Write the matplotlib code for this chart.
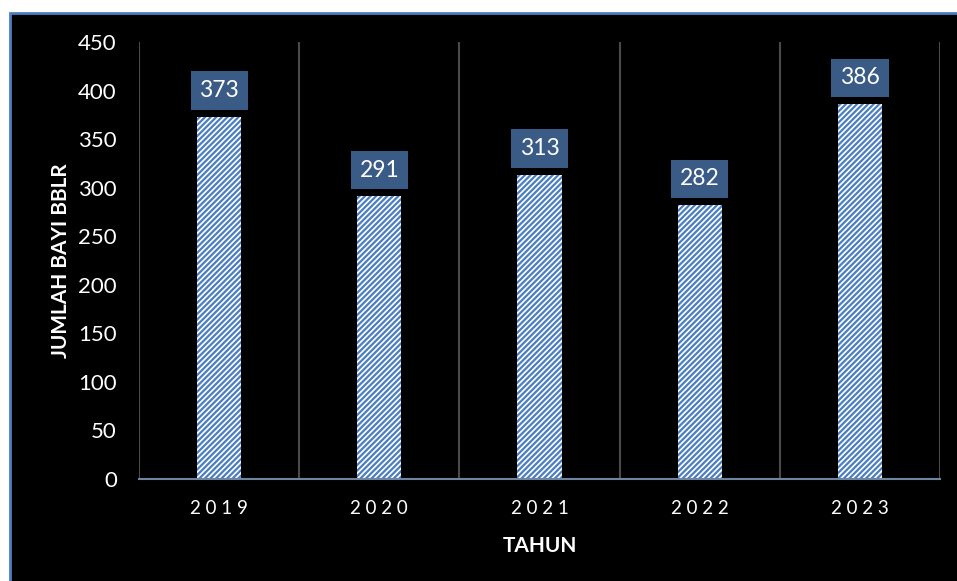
import matplotlib
matplotlib.use("Agg")
import matplotlib.pyplot as plt
from matplotlib.patches import Rectangle
import numpy as np

years = ["2019", "2020", "2021", "2022", "2023"]
values = [373, 291, 313, 282, 386]
yticks = [0, 50, 100, 150, 200, 250, 300, 350, 400, 450]

plt.rcParams['font.family'] = ['Lato', 'DejaVu Sans']
plt.rcParams['hatch.linewidth'] = 1.6

W, H = 957, 581
fig = plt.figure(figsize=(W / 100, H / 100), dpi=100, facecolor='white')

# black panel with blue border
panel = Rectangle((10 / W, -0.01), 1.02, (H - 13) / H + 0.01,
                  transform=fig.transFigure, facecolor='black',
                  edgecolor='#4A7EC0', linewidth=2, zorder=-10)
fig.add_artist(panel)

ax = fig.add_axes([139 / W, (H - 479) / H, (940 - 139) / W, (479 - 42) / H])
ax.set_zorder(5)
ax.set_facecolor('black')
ax.patch.set_alpha(0)

x = np.arange(len(years))
bars = ax.bar(x, values, width=0.275, color='white', edgecolor='#4A7EC0',
              hatch='//////', linewidth=0, zorder=3)

ax.set_xlim(-0.5, len(years) - 0.5)
ax.set_ylim(0, 450)
ax.set_yticks(yticks)
ax.set_yticklabels([str(t) for t in yticks])
ax.set_xticks(x)
ax.set_xticklabels([" ".join(y) for y in years])

# vertical separators
for b in np.arange(-0.5, len(years), 1.0):
    ax.axvline(b, color='#4a4a4a', linewidth=1.5, zorder=1)

for s in ['left', 'right', 'top']:
    ax.spines[s].set_visible(False)
ax.spines['bottom'].set_color('#6F84A0')
ax.spines['bottom'].set_linewidth(1.5)
ax.spines['bottom'].set_zorder(4)

ax.tick_params(axis='y', length=0, pad=16, labelsize=16, colors='white')
ax.tick_params(axis='x', length=0, pad=15, labelsize=13.5, colors='white')

for xi, v in zip(x, values):
    ax.annotate(str(v), xy=(xi, v), xytext=(0, 19), textcoords='offset points',
                ha='center', va='center', color='white', fontsize=16.5,
                bbox=dict(boxstyle='square,pad=0.38', facecolor='#3A5B86',
                          edgecolor='none'), zorder=5)

ax.set_ylabel('JUMLAH BAYI BBLR', color='white', fontsize=15,
              fontweight='bold', labelpad=5)
ax.set_xlabel('TAHUN', color='white', fontsize=15, fontweight='bold',
              labelpad=14)

fig.savefig('out.png', dpi=100, facecolor='white')
